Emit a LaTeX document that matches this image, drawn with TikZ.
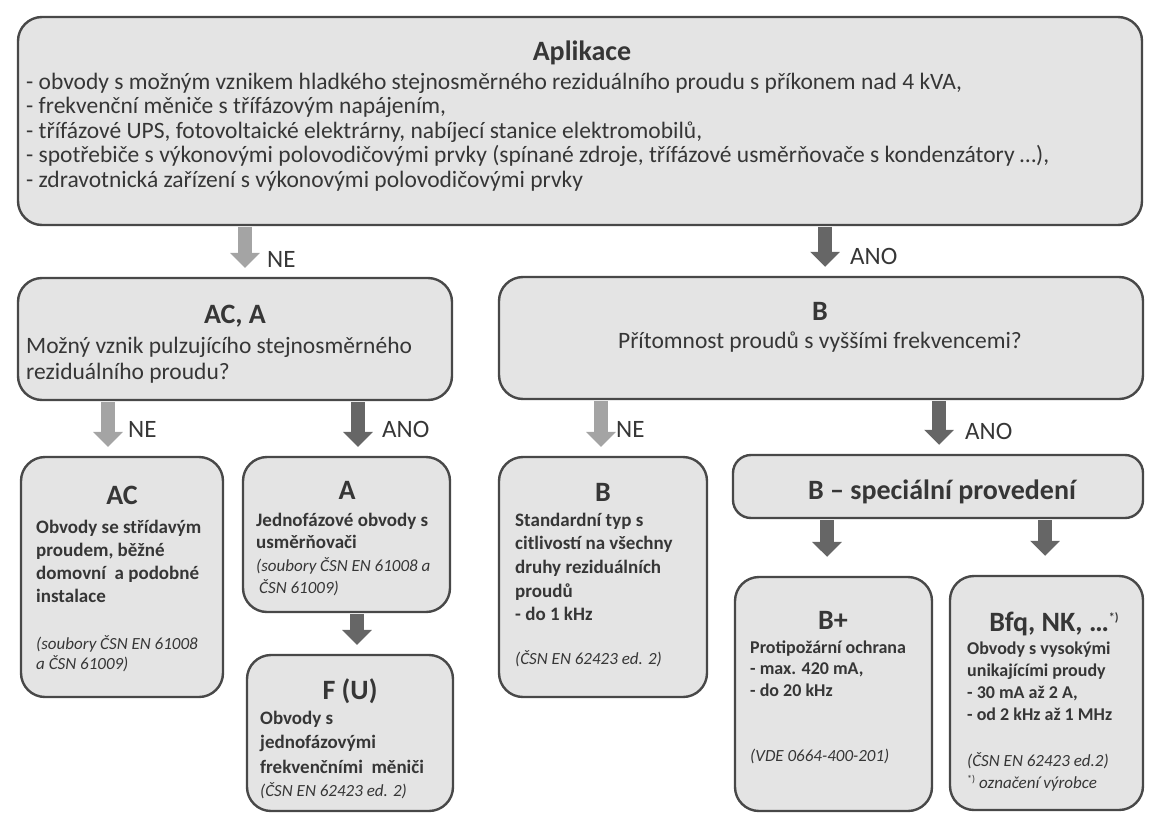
\documentclass[tikz,border=0pt]{standalone}
\usepackage{fontspec}
\setmainfont{Carlito}
\usetikzlibrary{arrows.meta,positioning,calc}
\definecolor{ink}{HTML}{363636}
\definecolor{frame}{HTML}{484848}
\definecolor{pale}{HTML}{E4E4E4}
\definecolor{lightarr}{HTML}{A4A4A4}
\definecolor{darkarr}{HTML}{666666}
\tikzset{
  panel/.style={draw=frame,line width=2.4pt,fill=pale,rounded corners=24pt,inner sep=0pt},
  ttl/.style={font=\fontsize{28}{32}\selectfont\bfseries,text=ink,inner sep=0pt,anchor=base},
  qtxt/.style={font=\fontsize{23.5}{26}\selectfont,text=ink,inner sep=0pt,anchor=base west},
  btxt/.style={font=\fontsize{19}{23}\selectfont\bfseries,text=ink,inner sep=0pt,anchor=base west},
  stxt/.style={btxt,font=\fontsize{18}{22}\selectfont\bfseries},
  itxt/.style={font=\fontsize{17}{20}\selectfont\itshape,text=ink,inner sep=0pt,anchor=base west},
  yes/.style={draw=darkarr,line width=14pt,-{Triangle[width=29pt,length=15pt]},shorten >=9pt,shorten <=1.2pt},
  no/.style={yes,draw=lightarr},
  lbl/.style={font=\fontsize{25}{28}\selectfont,text=ink,inner sep=0pt,anchor=west},
}
\newcommand{\mkstar}[1]{{\fontsize{#1}{#1}\selectfont\upshape *)}}

\begin{document}
\begin{tikzpicture}[x=1pt,y=-1pt]
  \useasboundingbox (0,0) rectangle (1150,816);
  % boxes: name, left, top, right, bottom
  \newcommand{\panel}[6][]{\node[panel,minimum width=#5pt-#3pt,minimum height=#6pt-#4pt,#1] (#2) at ({(#3+#5)/2},{(#4+#6)/2}) {};}
  % text lines: name, style, x, first baseline, step, lines
  \newcommand{\stack}[6]{\foreach \t [count=\i] in {#6}{\node[#2] (#1\i) at (#3,{#4+(\i-1)*#5}) {\t};}}
  \panel{app}{18}{17}{1142}{225}
  \panel{acA}{18}{278}{452}{400}
  \panel{bq}{499}{277}{1143}{399}
  \panel{ac}{21}{457}{223}{697}
  \panel{a}{243}{457}{450}{612}
  \panel{fu}{247}{655}{453}{811}
  \panel{bstd}{499}{457}{707}{697}
  \panel[rounded corners=18pt]{bsp}{733}{455}{1143}{518}
  \panel{bplus}{735}{577}{932}{811}
  \panel{bfq}{950}{576}{1143}{810}

  \node[ttl] (appt) at (582,60) {Aplikace};
  \stack{appl}{qtxt}{26}{89}{24.5}{{- obvody s možným vznikem hladkého stejnosměrného reziduálního proudu s příkonem nad 4 kVA,},
    {- frekvenční měniče s třífázovým napájením,},{- třífázové UPS, fotovoltaické elektrárny, nabíjecí stanice elektromobilů,},
    {- spotřebiče s výkonovými polovodičovými prvky (spínané zdroje, třífázové usměrňovače s kondenzátory \ldots),},
    {- zdravotnická zařízení s výkonovými polovodičovými prvky}}

  \node[ttl] (acAt) at (235,323) {AC, A};
  \stack{acAl}{qtxt}{26}{353}{26}{{Možný vznik pulzujícího stejnosměrného},{reziduálního proudu?}}
  \node[ttl] (bqt) at (820,320) {B};
  \node[qtxt,anchor=base] (bql) at (820,348) {Přítomnost proudů s vyššími frekvencemi?};

  \node[ttl] (act) at (122,504) {AC};
  \stack{acl}{btxt}{36}{533}{23.3}{{Obvody se střídavým},{proudem, běžné},{domovní\ \ a podobné},{instalace}}
  \stack{aci}{itxt}{36}{649}{20}{{(soubory ČSN EN 61008},{a ČSN 61009)}}

  \node[ttl] (at) at (347,499) {A};
  \stack{al}{btxt}{256}{526}{22}{{Jednofázové obvody s},{usměrňovači}}
  \stack{ai}{itxt}{256}{571}{22}{{(soubory ČSN EN 61008 a},{\hspace{3pt}ČSN 61009)}}

  \node[ttl] (fut) at (350,699) {F (U)};
  \stack{ful}{btxt}{260}{724}{24.5}{{Obvody s},{jednofázovými},{frekvenčními\ \ měniči}}
  \node[itxt] (fui) at (260,796) {(ČSN EN 62423 ed. 2)};

  \node[ttl] (bstdt) at (603,501) {B};
  \stack{bstdl}{btxt}{515}{526}{23.7}{{Standardní typ s},{citlivostí na všechny},{druhy reziduálních},{proudů},{- do 1 kHz}}
  \node[itxt] (bstdi) at (515,664) {(ČSN EN 62423 ed. 2)};

  \node[ttl] (bspt) at (942,499) {B – speciální provedení};

  \node[ttl] (bplust) at (833,629) {B+};
  \stack{bplusl}{stxt}{750}{653}{21.5}{{Protipožární ochrana},{- max. 420 mA,},{- do 20 kHz}}
  \node[itxt] (bplusi) at (750,761) {(VDE 0664-400-201)};

  \node[ttl] (bfqt) at (1054,631) {Bfq, NK, \ldots\raisebox{10pt}{\mkstar{12}}};
  \stack{bfql}{stxt}{967}{654}{22.3}{{Obvody s vysokými},{unikajícími proudy},{- 30 mA až 2 A,},{- od 2 kHz až 1 MHz}}
  \stack{bfqi}{itxt}{967}{766}{22}{{(ČSN EN 62423 ed.2)},{\raisebox{6pt}{\mkstar{10}} označení výrobce}}

  % decisions
  \draw[no] (245,0 |- app.south) -- (245,0 |- acA.north);
  \draw[yes] (825,0 |- app.south) -- (825,0 |- bq.north);
  \draw[no] (108,0 |- acA.south) -- (108,0 |- ac.north);
  \draw[yes] (358,0 |- acA.south) -- (358,0 |- a.north);
  \draw[no] (601,0 |- bq.south) -- (601,0 |- bstd.north);
  \draw[yes] (939,0 |- bq.south) -- (939,0 |- bsp.north);
  \draw[yes] (357,0 |- a.south) -- (357,0 |- fu.north);
  \draw[yes,shorten >=19pt] (827,0 |- bsp.south) -- (827,0 |- bplus.north);
  \draw[yes,shorten >=19pt] (1045,0 |- bsp.south) -- (1045,0 |- bfq.north);
  \node[lbl] (ne1) at (267,259) {NE};
  \node[lbl] (ano1) at (850,256) {ANO};
  \node[lbl] (ne2) at (128,429) {NE};
  \node[lbl] (ano2) at (382,429) {ANO};
  \node[lbl] (ne3) at (616,429) {NE};
  \node[lbl] (ano3) at (965,431) {ANO};
\end{tikzpicture}
\end{document}
